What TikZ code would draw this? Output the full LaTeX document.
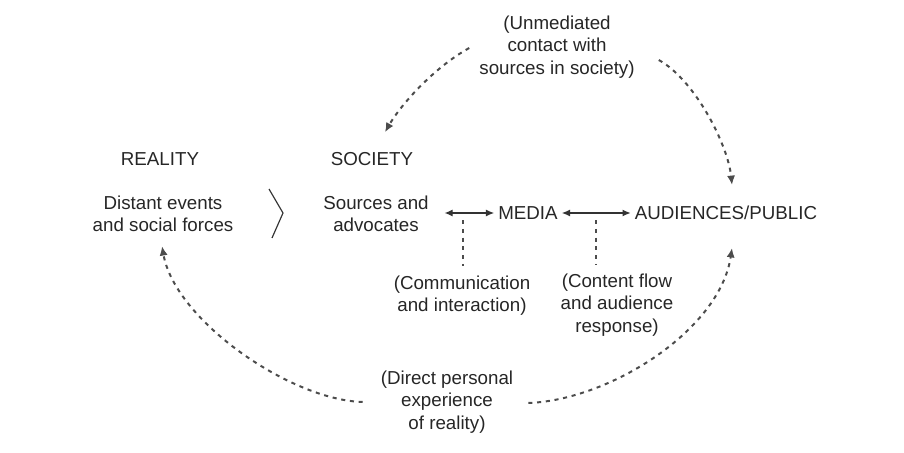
\documentclass[tikz,border=0pt]{standalone}
\usepackage{fontspec}
\setmainfont{Liberation Sans}
\usetikzlibrary{arrows.meta,calc}

\begin{document}
\begin{tikzpicture}[x=0.03cm,y=-0.03cm]
\tikzset{lbl/.style = {align=center, text=black!85, font=\fontsize{16}{19}\selectfont},
  dline/.style = {draw=black!70, line width=1.7pt, dash pattern=on 3.5pt off 4pt},
  dcurve/.style = {dline, -{Latex[length=8pt,width=7pt]}},
  twoway/.style = {draw=black!80, line width=1.1pt, {Latex[length=7pt,width=6pt]}-{Latex[length=7pt,width=6pt]}}}
\useasboundingbox (0,0) rectangle (904,453);
\node[lbl] (tl) at (557,47) {(Unmediated\\contact with\\sources in society)};
\node[lbl] (rea) at (160,159) {REALITY}; \node[lbl] (soc) at (372,159) {SOCIETY};
\node[lbl] (de) at (163,214) {Distant events\\and social forces}; \node[lbl] (src) at (376,214) {Sources and\\advocates};
\node[lbl] (med) at (528,213) {MEDIA}; \node[lbl] (aud) at (726,213) {AUDIENCES/PUBLIC};
\node[lbl] (com) at (462,296) {(Communication\\and interaction)}; \node[lbl] (con) at (617,305) {(Content flow\\and audience\\response)};
\node[lbl] (dp) at (447,402) {(Direct personal\\experience\\of reality)};
\coordinate (m1) at ($(src.east |- med.west)!.5!(med.west)$); \coordinate (m2) at ($(med.east)!.5!(aud.west)$);

\draw[draw=black!80, line width=1pt] (269,189) -- (283,213) -- (272,238);
\draw[twoway, shorten <=10pt] (src.east |- med.west) -- (med.west); \draw[twoway] (med.east) -- (aud.west);
\draw[dline, shorten <=6pt, shorten >=5pt] (m1) -- (m1 |- com.north); \draw[dline, shorten <=6pt, shorten >=5pt] (m2) -- (m2 |- con.north);
\draw[dcurve] ([shift={(-6,1)}]tl.west) .. controls (433,68) and (400,106) .. ([shift={(13,-16)}]soc.north);
\draw[dcurve] ([shift={(20,13)}]tl.east) .. controls (695,80) and (728,145) .. ([shift={(6,-17)}]aud.north);
\draw[dcurve] ([shift={(-14,0)}]dp.west) .. controls (290,400) and (175,320) .. ([shift={(-1,10)}]de.south);
\draw[dcurve] ([shift={(11,1)}]dp.east) .. controls (610,400) and (720,330) .. ([shift={(6,24)}]aud.south);
\end{tikzpicture}
\end{document}
